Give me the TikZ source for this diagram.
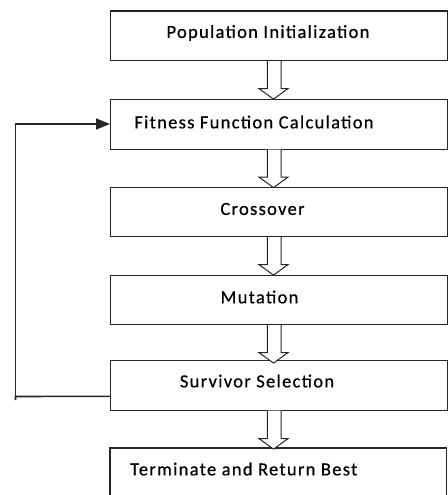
\documentclass[tikz,border=0pt]{standalone}
\usepackage{fontspec}
\setmainfont{Carlito}
\newfontfamily\lblfont{Carlito}[LetterSpace=7,FakeBold=0.6]
\usetikzlibrary{arrows.meta,calc}
\begin{document}
\begin{tikzpicture}[x=1pt,y=-1pt,
  box/.style={draw=black!85,line width=1.1pt,minimum width=336.5pt,minimum height=49.5pt,inner sep=0pt,anchor=north west},
  lbl/.style={font=\lblfont\fontsize{18.5}{21}\selectfont,inner sep=0pt,text=black},
  blockarrow/.style={draw=black!85,line width=1pt,fill=white},
  fb/.style={draw=black!85,line width=1.6pt}]
\useasboundingbox (0,0) rectangle (447,495);
\node[box] (b1) at (110,10.5) {};
\node[box] (b2) at (110,99) {};
\node[box] (b3) at (110,186.5) {};
\node[box] (b4) at (110,274.5) {};
\node[box] (b5) at (110,360) {};
\coordinate (b6nw) at (110,448);
\coordinate (b6ne) at (446.5,448);
\draw[draw=black!85,line width=1.1pt] (110,496) -- (b6nw) -- (b6ne) -- (446.5,496);
\node[lbl] (t1) at (268,33) {Population Initialization};
\node[lbl] (t2) at (254,122) {Fitness Function Calculation};
\node[lbl] (t3) at (262.5,209) {Crossover};
\node[lbl] (t4) at (259.5,297) {Mutation};
\node[lbl] (t5) at (257,381) {Survivor Selection};
\node[lbl,anchor=west] (t6) at (130,469) {Terminate and Return Best};
% block arrows
\foreach \a in {b1,b2,b3,b4} {
  \draw[blockarrow] ($(\a.south west)+(157.3,0)$) -- ++(0,27.5) -- ++(-8.3,0) -- ++(14.5,10.5) -- ++(14.5,-10.5) -- ++(-7,0) -- ++(0,-27.5);
}
\draw[blockarrow] ($(b5.south west)+(157.3,0)$) -- ++(0,28) -- ++(-8.3,0) -- ++(14.5,10.5) -- ++(14.5,-10.5) -- ++(-7,0) -- ++(0,-28);
% feedback loop
\coordinate (fbl) at (15.5,396.5);
\coordinate (fbt) at (15.5,124);
\draw[fb] ($(b5.west)+(0,11)$) -- (fbl) -- ++(0,3.5);
\draw[fb,-{Triangle[length=14pt,width=11pt]}] (fbl) -- (fbt) -- (b2.west |- fbt);
\end{tikzpicture}
\end{document}
